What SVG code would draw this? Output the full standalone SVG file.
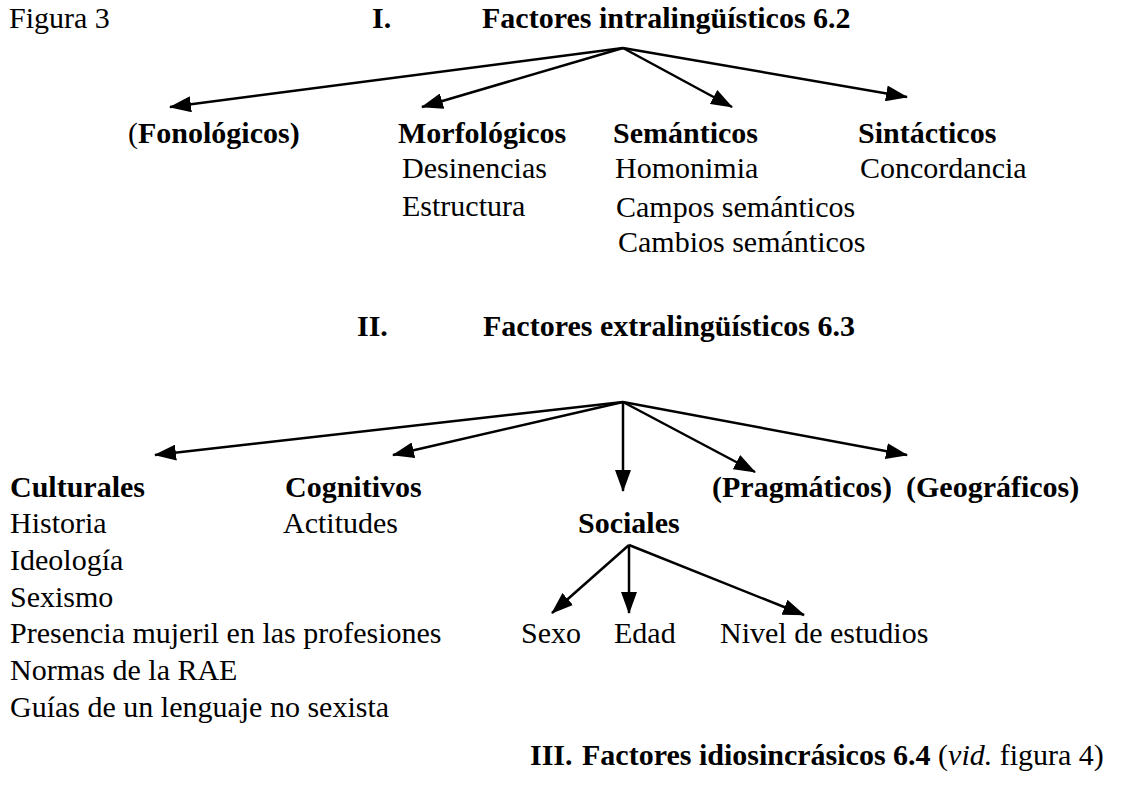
<svg xmlns="http://www.w3.org/2000/svg" width="1127" height="798" viewBox="0 0 1127 798">
<style>
text{font-family:"Liberation Serif","Times New Roman",serif;font-size:30px;fill:#000}
.b{font-weight:bold}
.i{font-style:italic}
.c{stroke:#000;stroke-width:2.5;fill:none;marker-end:url(#ah)}
</style>
<defs>
<marker id="ah" markerUnits="userSpaceOnUse" markerWidth="22" markerHeight="16" refX="21" refY="8" orient="auto">
<path d="M0,0 L22,8 L0,16 z" fill="#000"/>
</marker>
</defs>
<rect width="1127" height="798" fill="#fff"/>
<g id="titles">
<text x="9" y="28">Figura 3</text>
<text class="b" x="372" y="28">I.</text>
<text class="b" x="482" y="28">Factores intralingüísticos 6.2</text>
<text class="b" x="357" y="336">II.</text>
<text class="b" x="483" y="336">Factores extralingüísticos 6.3</text>
<text class="b" x="530" y="765">III.</text>
<text x="582" y="765"><tspan class="b">Factores idiosincrásicos 6.4</tspan> (<tspan class="i">vid.</tspan> figura 4)</text>
</g>
<g id="connectors">
<line class="c" x1="623" y1="48" x2="170" y2="107"/>
<line class="c" x1="623" y1="48" x2="422" y2="107"/>
<line class="c" x1="623" y1="48" x2="732" y2="107"/>
<line class="c" x1="623" y1="48" x2="907" y2="97"/>
<line class="c" x1="623" y1="402" x2="155" y2="455"/>
<line class="c" x1="623" y1="402" x2="393" y2="455"/>
<line class="c" x1="623" y1="402" x2="623" y2="491"/>
<line class="c" x1="623" y1="402" x2="755" y2="472"/>
<line class="c" x1="623" y1="402" x2="907" y2="455"/>
<line class="c" x1="629" y1="545" x2="552" y2="613"/>
<line class="c" x1="629" y1="545" x2="629" y2="613"/>
<line class="c" x1="629" y1="545" x2="804" y2="615"/>
</g>
<g id="fonologicos">
<text x="128" y="143">(<tspan class="b">Fonológicos)</tspan></text>
</g>
<g id="morfologicos">
<text class="b" x="398" y="143">Morfológicos</text>
<text x="402" y="178">Desinencias</text>
<text x="402" y="216">Estructura</text>
</g>
<g id="semanticos">
<text class="b" x="613" y="143">Semánticos</text>
<text x="615" y="178">Homonimia</text>
<text x="616" y="217">Campos semánticos</text>
<text x="618" y="252">Cambios semánticos</text>
</g>
<g id="sintacticos">
<text class="b" x="858" y="143">Sintácticos</text>
<text x="860" y="178">Concordancia</text>
</g>
<g id="culturales">
<text class="b" x="10" y="497">Culturales</text>
<text x="10" y="533">Historia</text>
<text x="10" y="570">Ideología</text>
<text x="10" y="607">Sexismo</text>
<text x="10" y="643">Presencia mujeril en las profesiones</text>
<text x="10" y="680">Normas de la RAE</text>
<text x="10" y="717">Guías de un lenguaje no sexista</text>
</g>
<g id="cognitivos">
<text class="b" x="285" y="497">Cognitivos</text>
<text x="283" y="533">Actitudes</text>
</g>
<g id="pragmaticos">
<text class="b" x="712" y="497">(Pragmáticos)</text>
</g>
<g id="geograficos">
<text class="b" x="906" y="497">(Geográficos)</text>
</g>
<g id="sociales">
<text class="b" x="578" y="533">Sociales</text>
</g>
<g id="sexo"><text x="521" y="643">Sexo</text></g>
<g id="edad"><text x="614" y="643">Edad</text></g>
<g id="nivel"><text x="720" y="643">Nivel de estudios</text></g>
</svg>
